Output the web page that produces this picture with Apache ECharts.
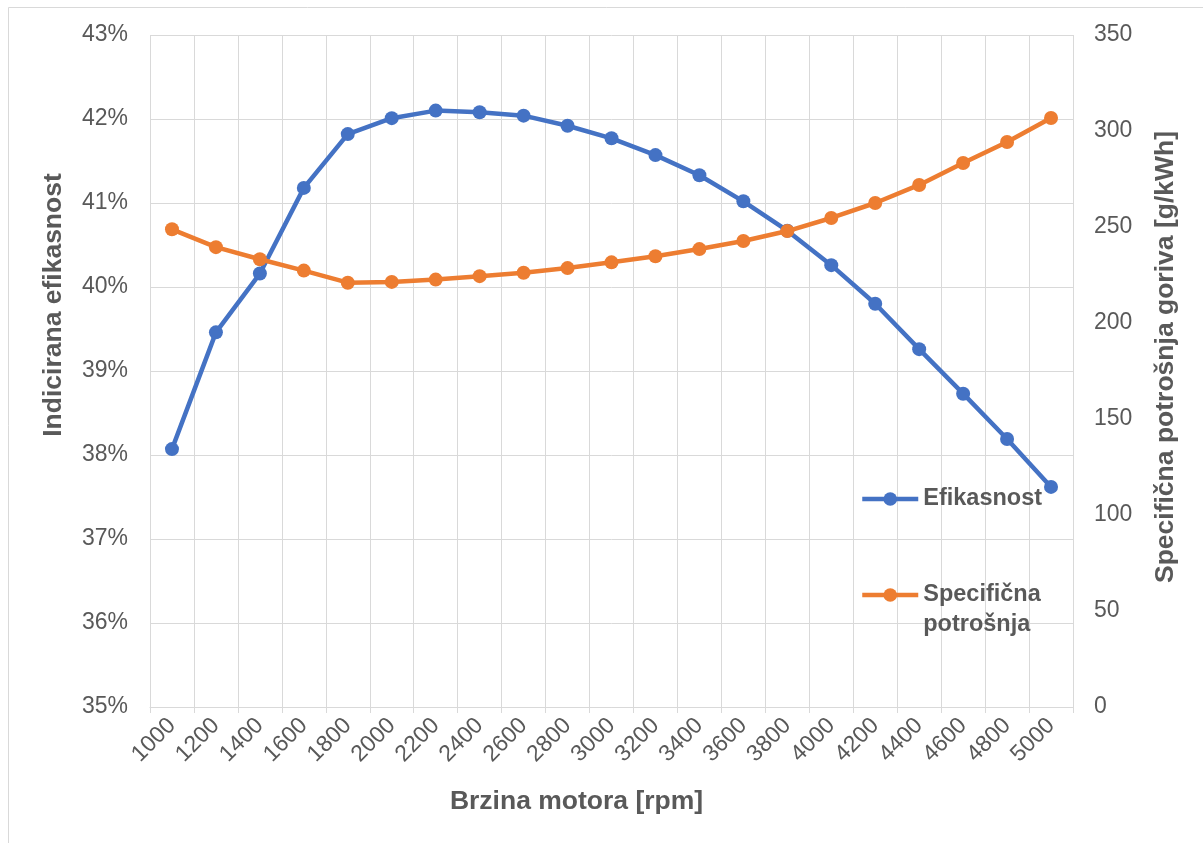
<!DOCTYPE html>
<html><head><meta charset="utf-8">
<script src="https://cdn.jsdelivr.net/npm/echarts@6/dist/echarts.min.js"></script>
<style>html,body{margin:0;padding:0;background:#fff}#c{width:1203px;height:843px}</style>
</head><body><div id="c"></div>
<script>
const categories = ['1000','1200','1400','1600','1800','2000','2200','2400','2600','2800','3000','3200','3400','3600','3800','4000','4200','4400','4600','4800','5000'];
const efikasnost = [38.07, 39.46, 40.16, 41.18, 41.82, 42.01, 42.10, 42.08, 42.04, 41.92, 41.77, 41.57, 41.33, 41.02, 40.67, 40.26, 39.80, 39.26, 38.73, 38.19, 37.62];
const specificnaPotrosnja = [248.8, 239.5, 233.2, 227.3, 221.0, 221.4, 222.6, 224.4, 226.2, 228.6, 231.6, 234.8, 238.5, 242.7, 247.9, 254.7, 262.5, 271.9, 283.3, 294.3, 306.8];
const leftAxisRange = [35, 43, 1];
const rightAxisRange = [0, 350, 50];
const seriesNames = ['Efikasnost', 'Specifična potrošnja'];

const txt = '#595959';
const grid = '#d9d9d9';
const font = 'Liberation Sans, Arial, sans-serif';
const titleStyle = {color: txt, fontSize: 26.5, fontWeight: 'bold', fontFamily: font};

const chart = echarts.init(document.getElementById('c'), null, {renderer: 'canvas'});
chart.setOption({
  animation: false,
  backgroundColor: '#fff',
  graphic: [{
    type: 'rect', shape: {x: 8.5, y: 7.5, width: 1300, height: 900},
    style: {fill: 'none', stroke: grid, lineWidth: 1}, silent: true, z: -10
  }],
  grid: {left: 150, right: 130, top: 35, bottom: 136, containLabel: false},
  legend: [{
    data: [seriesNames[0]], left: 860, top: 484, orient: 'vertical',
    itemWidth: 56, itemHeight: 17, padding: 0,
    lineStyle: {width: 4.5},
    textStyle: {color: txt, fontSize: 23.5, fontWeight: 'bold', fontFamily: font, lineHeight: 30}
  }, {
    data: [seriesNames[1]], left: 860, top: 550, orient: 'vertical',
    itemWidth: 56, itemHeight: 17, padding: 0,
    lineStyle: {width: 4.5},
    formatter: function () { return '\nSpecifična\npotrošnja'; },
    textStyle: {color: txt, fontSize: 23.5, fontWeight: 'bold', fontFamily: font, lineHeight: 30}
  }],
  xAxis: {
    type: 'category', data: categories, boundaryGap: true,
    name: 'Brzina motora [rpm]', nameLocation: 'middle', nameGap: 81,
    nameTextStyle: Object.assign({padding: [0, 70, 0, 0]}, titleStyle),
    axisLine: {show: true, lineStyle: {color: grid}},
    axisTick: {show: true, length: 6, lineStyle: {color: grid}, interval: 0},
    splitLine: {show: true, interval: 0, lineStyle: {color: grid, width: 1}},
    axisLabel: {rotate: 45, interval: 0, color: txt, fontSize: 23, fontFamily: font, margin: 15}
  },
  yAxis: [{
    type: 'value', min: leftAxisRange[0], max: leftAxisRange[1], interval: leftAxisRange[2],
    name: 'Indicirana efikasnost', nameLocation: 'middle', nameGap: 83, nameRotate: 90,
    nameTextStyle: Object.assign({padding: [0, 0, 0, 132]}, titleStyle),
    axisLine: {show: false}, axisTick: {show: false},
    splitLine: {show: true, lineStyle: {color: grid, width: 1}},
    axisLabel: {formatter: '{value}%', color: txt, fontSize: 23, fontFamily: font, margin: 22}
  }, {
    type: 'value', min: rightAxisRange[0], max: rightAxisRange[1], interval: rightAxisRange[2],
    position: 'right',
    name: 'Specifična potrošnja goriva [g/kWh]', nameLocation: 'middle', nameGap: 79, nameRotate: 90,
    nameTextStyle: Object.assign({padding: [0, 0, 0, 28]}, titleStyle),
    axisLine: {show: false}, axisTick: {show: false},
    splitLine: {show: false},
    axisLabel: {color: txt, fontSize: 23, fontFamily: font, margin: 21}
  }],
  series: [{
    name: seriesNames[0], type: 'line', yAxisIndex: 0, data: efikasnost,
    symbol: 'circle', symbolSize: 14,
    itemStyle: {color: '#4472C4'}, lineStyle: {color: '#4472C4', width: 4.5}, z: 3
  }, {
    name: seriesNames[1], type: 'line', yAxisIndex: 1, data: specificnaPotrosnja,
    symbol: 'circle', symbolSize: 14,
    itemStyle: {color: '#ED7D31'}, lineStyle: {color: '#ED7D31', width: 4.5}, z: 4
  }]
});
</script></body></html>
